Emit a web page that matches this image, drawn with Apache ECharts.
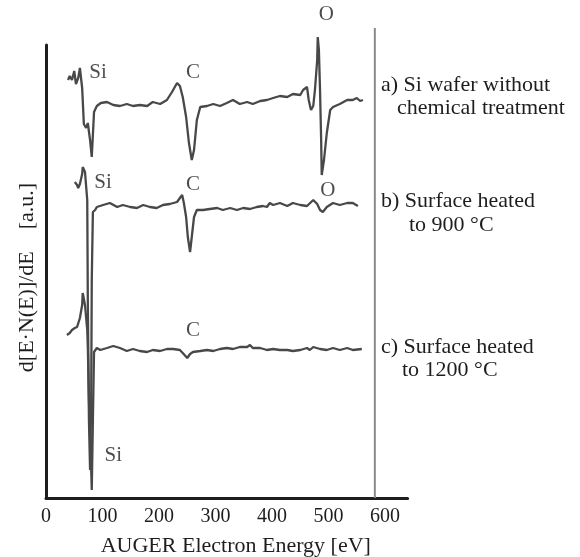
<!DOCTYPE html>
<html>
<head>
<meta charset="utf-8">
<script src="https://cdn.jsdelivr.net/npm/echarts@6/dist/echarts.min.js"></script>
<style>
  html, body { margin: 0; padding: 0; background: #fff; }
  #chart { width: 580px; height: 557px; }
</style>
</head>
<body>
<div id="chart"></div>
<script>
// AES spectra, energy in eV, intensity in a.u. (relative to each curve's own baseline)
const energyA = [39, 42, 46, 50, 53, 57, 60, 62, 64, 67, 71, 74, 78, 81, 83, 85, 90, 97, 108, 119, 131, 143, 154, 166, 179, 189, 202, 214, 223, 232, 237, 242, 248, 253, 258, 262, 267, 273, 285, 296, 308, 320, 331, 343, 356, 366, 379, 391, 402, 414, 427, 437, 450, 455, 462, 465, 469, 473, 476, 480, 481, 483, 485, 487, 488, 492, 497, 503, 508, 520, 533, 543, 550, 556, 561];
const signalA = [25, 29, 25, 34, 21, 27, 37, 38, 17, -19, -23, -18, -35, -52, -30, -7, -1, 2, 3, 0, -1, 1, -1, 0, -1, 3, 1, 5, 13, 22, 19, 8, -12, -38, -55, -45, -15, -2, -1, 1, -1, 2, 5, 1, 3, 1, 4, 5, 7, 9, 8, 11, 10, 15, 18, 5, -5, -1, 15, 45, 68, 55, 15, -35, -70, -55, -28, -5, -2, 1, 5, 5, 7, 4, 5];

const energyB = [51, 55, 57, 60, 64, 65, 69, 73, 74, 76, 78, 80, 81, 83, 87, 90, 101, 113, 126, 136, 149, 161, 172, 184, 196, 207, 219, 232, 237, 241, 244, 248, 251, 255, 258, 262, 267, 278, 290, 303, 313, 326, 338, 349, 361, 373, 384, 391, 396, 402, 414, 427, 437, 450, 462, 473, 480, 485, 490, 497, 508, 520, 533, 543, 552];
const signalB = [28, 25, 22, 26, 36, 43, 38, 10, -90, -210, -260, -190, -70, -2, 0, 3, 5, 7, 3, 5, 3, 2, 5, 3, 2, 5, 6, 8, 12, 15, 7, -7, -27, -42, -27, -7, 0, 0, 1, 2, 0, 2, 0, 2, 1, 3, 4, 3, 7, 5, 7, 4, 7, 5, 4, 10, 6, 0, -2, 3, 7, 5, 7, 7, 4];

const energyC = [37, 42, 46, 51, 55, 60, 64, 65, 69, 73, 74, 76, 80, 81, 83, 85, 90, 96, 108, 119, 131, 143, 154, 166, 179, 189, 202, 214, 225, 237, 242, 250, 255, 260, 273, 285, 296, 308, 320, 331, 343, 356, 361, 366, 379, 391, 402, 414, 427, 437, 450, 462, 467, 473, 485, 497, 508, 520, 533, 543, 559];
const signalC = [15, 17, 20, 22, 23, 32, 45, 57, 45, 20, 3, -50, -120, -140, -70, -2, 2, 0, 2, 4, 2, -1, 1, -1, -2, 0, -1, 1, 1, 0, -3, -8, -4, -2, -1, 0, -1, 1, 2, 1, 3, 3, 5, 2, 2, 0, 1, 0, 0, -1, 0, 2, 0, 3, 1, 0, 2, 0, 2, 0, 1];

// peak annotations: element, energy, height
const peakNames = ['Si', 'C', 'O', 'Si', 'C', 'O', 'C', 'Si'];
const peakEnergy = [92, 260, 496, 101, 260, 499, 260, 119];
const peakHeight = [426, 426, 484, 316, 314, 308, 168, 43];

const xTicks = [0, 100, 200, 300, 400, 500, 600];

// vertical stacking of the three curves
const OFFSET_A = 393;
const OFFSET_B = 288;
const OFFSET_C = 148;
const FRAME_EV = 582;

const SERIF = '"Liberation Serif", "DejaVu Serif", serif';
const INK = '#1e1e1e';
const CURVE = '#484848';

function shift(energies, values, offset) {
    return energies.map((e, i) => [e, values[i] + offset]);
}

function curve(name, data) {
    return {
        name: name,
        type: 'line',
        data: data,
        symbol: 'none',
        clip: false,
        lineStyle: { color: CURVE, width: 2.3 },
        silent: true,
        z: 3
    };
}

const chart = echarts.init(document.getElementById('chart'));

chart.setOption({
    animation: false,
    backgroundColor: '#fff',
    grid: { left: 46, top: 45, width: 361.6, height: 453, containLabel: false, outerBoundsMode: 'none' },
    xAxis: {
        type: 'value',
        min: 0,
        max: 640,
        interval: 100,
        axisLine: { lineStyle: { color: INK, width: 3 } },
        axisTick: { show: false },
        splitLine: { show: false },
        axisLabel: {
            margin: 9,
            fontFamily: SERIF,
            fontSize: 20,
            color: INK,
            customValues: xTicks
        },
        name: 'AUGER Electron Energy [eV]',
        nameLocation: 'middle',
        nameGap: 37,
        nameTextStyle: { fontFamily: SERIF, fontSize: 22, color: INK, padding: [0, 0, 0, 18] }
    },
    yAxis: {
        type: 'value',
        min: 0,
        max: 453,
        axisLine: { show: true, lineStyle: { color: INK, width: 3 } },
        axisTick: { show: false },
        axisLabel: { show: false },
        splitLine: { show: false },
        name: 'd[E·N(E)]/dE    [a.u.]',
        nameLocation: 'middle',
        nameGap: 8,
        nameTextStyle: { fontFamily: SERIF, fontSize: 22, color: INK, padding: [0, 12, 0, 0] }
    },
    series: [
        curve('a', shift(energyA, signalA, OFFSET_A)),
        curve('b', shift(energyB, signalB, OFFSET_B)),
        curve('c', shift(energyC, signalC, OFFSET_C)),
        {
            name: 'frame',
            type: 'line',
            data: [[FRAME_EV, 0], [FRAME_EV, 470]],
            symbol: 'none',
            clip: false,
            silent: true,
            lineStyle: { color: '#8a8a8a', width: 2 },
            z: 2
        },
        {
            name: 'peaks',
            type: 'scatter',
            symbolSize: 0,
            clip: false,
            silent: true,
            data: peakNames.map((n, i) => ({ name: n, value: [peakEnergy[i], peakHeight[i]] })),
            label: {
                show: true,
                position: 'inside',
                formatter: '{b}',
                fontFamily: SERIF,
                fontSize: 21,
                color: INK
            },
            z: 4
        }
    ],
    graphic: [
        { type: 'text', left: 381, top: 74, style: { text: 'a) Si wafer without', font: '22px ' + SERIF, fill: INK } },
        { type: 'text', left: 397, top: 97, style: { text: 'chemical treatment', font: '22px ' + SERIF, fill: INK } },
        { type: 'text', left: 381, top: 190, style: { text: 'b) Surface heated', font: '22px ' + SERIF, fill: INK } },
        { type: 'text', left: 409, top: 214, style: { text: 'to 900 °C', font: '22px ' + SERIF, fill: INK } },
        { type: 'text', left: 381, top: 336, style: { text: 'c) Surface heated', font: '22px ' + SERIF, fill: INK } },
        { type: 'text', left: 402, top: 359, style: { text: 'to 1200 °C', font: '22px ' + SERIF, fill: INK } }
    ]
});
</script>
</body>
</html>
